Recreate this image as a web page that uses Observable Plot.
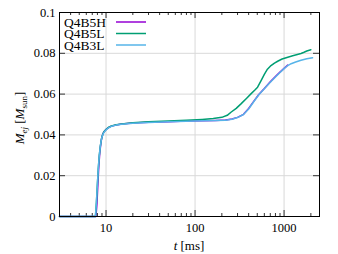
<!DOCTYPE html>
<html>
<head>
<meta charset="utf-8">
<script src="https://cdn.jsdelivr.net/npm/d3@7"></script>
<script src="https://cdn.jsdelivr.net/npm/@observablehq/plot@0.6"></script>
<style>
  html, body { margin: 0; padding: 0; background: #fff; }
  svg text { font-family: "Liberation Serif", "DejaVu Serif", serif; }
</style>
</head>
<body>
<div id="chart"></div>
<script>
// ---- data ----
const seriesNames = ["Q4B5H", "Q4B5L", "Q4B3L"];
const seriesColors = ["#9400d3", "#009e73", "#56b4e9"];

const t_Q4B5H = [3, 7.7, 7.9, 8.1, 8.3, 8.5, 8.7, 8.9, 9.2, 9.6, 10, 10.6, 11.5, 13, 15, 20, 30, 50, 80, 120, 170, 220, 260, 300, 350, 400, 460, 520, 600, 700, 800, 900, 1000, 1100];
const m_Q4B5H = [0, 0, 0.006, 0.016, 0.025, 0.031, 0.035, 0.038, 0.0405, 0.0418, 0.0427, 0.0435, 0.0443, 0.0449, 0.0453, 0.0458, 0.0462, 0.0465, 0.0468, 0.0469, 0.0471, 0.0473, 0.0478, 0.0486, 0.0501, 0.0530, 0.0567, 0.0598, 0.0627, 0.0660, 0.0686, 0.0708, 0.0726, 0.0742];

const t_Q4B5L = [3, 7.6, 7.8, 8.0, 8.2, 8.4, 8.6, 8.8, 9.0, 9.4, 9.8, 10.5, 11.5, 13, 15, 20, 30, 50, 80, 120, 160, 200, 230, 253, 290, 328, 380, 424, 470, 504, 550, 600, 650, 713, 780, 847, 950, 1100, 1250, 1410, 1550, 1676, 1800, 2000];
const m_Q4B5L = [0, 0, 0.007, 0.016, 0.024, 0.030, 0.034, 0.037, 0.0392, 0.0413, 0.0423, 0.0435, 0.0444, 0.0450, 0.0454, 0.0459, 0.0464, 0.0468, 0.0472, 0.0476, 0.0480, 0.0486, 0.0496, 0.0511, 0.0530, 0.0552, 0.0580, 0.0601, 0.0620, 0.0634, 0.0665, 0.0697, 0.0722, 0.0740, 0.0752, 0.0761, 0.0772, 0.0781, 0.0788, 0.0794, 0.0799, 0.0805, 0.0811, 0.0817];

const t_Q4B3L = [3, 7.6, 7.8, 8.0, 8.2, 8.4, 8.6, 8.8, 9.0, 9.4, 9.8, 10.5, 11.5, 13, 15, 20, 30, 50, 80, 120, 170, 220, 260, 300, 350, 400, 460, 520, 600, 700, 800, 900, 1000, 1100, 1200, 1350, 1550, 1800, 2090];
const m_Q4B3L = [0, 0, 0.007, 0.016, 0.024, 0.030, 0.034, 0.037, 0.039, 0.041, 0.042, 0.0433, 0.0442, 0.0448, 0.0452, 0.0457, 0.0461, 0.0465, 0.0467, 0.0469, 0.0470, 0.0472, 0.0477, 0.0485, 0.0500, 0.0527, 0.0565, 0.0597, 0.0626, 0.0658, 0.0684, 0.0706, 0.0725, 0.0740, 0.0749, 0.0757, 0.0766, 0.0773, 0.0778];

const xMajorTicks = [10, 100, 1000];
const xMinorTicks = [4, 5, 6, 7, 8, 9, 20, 30, 40, 50, 60, 70, 80, 90, 200, 300, 400, 500, 600, 700, 800, 900, 2000];
const yTicks = [0, 0.02, 0.04, 0.06, 0.08, 0.1];
const xDomain = [3, 2500];
const yDomain = [0, 0.1];

// ---- table ----
const seriesT = [t_Q4B5H, t_Q4B5L, t_Q4B3L];
const seriesM = [m_Q4B5H, m_Q4B5L, m_Q4B3L];
const rows = [];
seriesNames.forEach((name, i) => {
  seriesT[i].forEach((t, j) => rows.push({series: name, t, m: seriesM[i][j]}));
});

// ---- layout ----
const W = 338, H = 254;
const mL = 59, mR = 19, mT = 12, mB = 38;
const FW = W - mL - mR, FH = H - mT - mB;
const majorLen = 6, minorLen = 3;

function legendMark(index, scales, values, dims) {
  const g = d3.create("svg:g");
  const x0 = dims.marginLeft;
  const y0 = dims.marginTop;
  seriesNames.forEach((name, i) => {
    const yy = y0 + 10 + i * 11.5;
    g.append("text")
      .attr("x", x0 + 5).attr("y", yy).attr("dy", "0.35em")
      .attr("text-anchor", "start")
      .style("font-size", "13.5px").attr("fill", "#000")
      .text(name);
    g.append("line")
      .attr("x1", x0 + 57).attr("x2", x0 + 87)
      .attr("y1", yy).attr("y2", yy)
      .attr("stroke", seriesColors[i]).attr("stroke-width", 1.5);
  });
  return g.node();
}

const fmtY = d => String(+d.toFixed(2));

const chart = Plot.plot({
  width: W, height: H,
  marginLeft: mL, marginRight: mR, marginTop: mT, marginBottom: mB,
  style: {fontFamily: "'Liberation Serif', 'DejaVu Serif', serif", fontSize: "12.5px", background: "#fff"},
  x: {type: "log", domain: xDomain},
  y: {domain: yDomain},
  color: {domain: seriesNames, range: seriesColors},
  marks: [
    Plot.gridX(xMajorTicks, {stroke: "#d9d9d9", strokeOpacity: 1}),
    Plot.gridY(yTicks.slice(1, -1), {stroke: "#d9d9d9", strokeOpacity: 1}),
    // inward ticks (bottom/top/left/right)
    Plot.tickX(xMajorTicks, {x: d => d, insetTop: FH - majorLen, stroke: "#333"}),
    Plot.tickX(xMajorTicks, {x: d => d, insetBottom: FH - majorLen, stroke: "#333"}),
    Plot.tickX(xMinorTicks, {x: d => d, insetTop: FH - minorLen, stroke: "#333"}),
    Plot.tickX(xMinorTicks, {x: d => d, insetBottom: FH - minorLen, stroke: "#333"}),
    Plot.tickY(yTicks, {y: d => d, insetRight: FW - majorLen, stroke: "#333"}),
    Plot.tickY(yTicks, {y: d => d, insetLeft: FW - majorLen, stroke: "#333"}),
    Plot.axisX({ticks: xMajorTicks, tickSize: 0, tickPadding: 7, label: null, tickFormat: d => String(d)}),
    Plot.axisY({ticks: yTicks, tickSize: 0, tickPadding: 4, label: null, tickFormat: fmtY}),
    Plot.line(rows, {x: "t", y: "m", z: "series", stroke: "series", strokeWidth: 1.5}),
    Plot.frame({stroke: "#000", strokeWidth: 1}),
    legendMark
  ]
});

// axis labels with math styling
const svg = d3.select(chart);
const xl = svg.append("text")
  .attr("x", mL + FW / 2).attr("y", 245).attr("dy", "0.35em")
  .attr("text-anchor", "middle").style("font-size", "13px").attr("fill", "#000");
xl.append("tspan").attr("font-style", "italic").text("t");
xl.append("tspan").text(" [ms]");

const yl = svg.append("text")
  .attr("transform", `translate(19,${mT + FH / 2 + 4}) rotate(-90)`)
  .attr("text-anchor", "middle").attr("dy", "0.35em").style("font-size", "13px").attr("fill", "#000");
yl.append("tspan").attr("font-style", "italic").text("M");
yl.append("tspan").attr("font-style", "italic").style("font-size", "9px").attr("dy", "3").text("ej");
yl.append("tspan").attr("dy", "-3").text(" [");
yl.append("tspan").attr("font-style", "italic").text("M");
yl.append("tspan").style("font-size", "9px").attr("dy", "3").text("sun");
yl.append("tspan").attr("dy", "-3").text("]");

document.getElementById("chart").appendChild(chart);
</script>
</body>
</html>
